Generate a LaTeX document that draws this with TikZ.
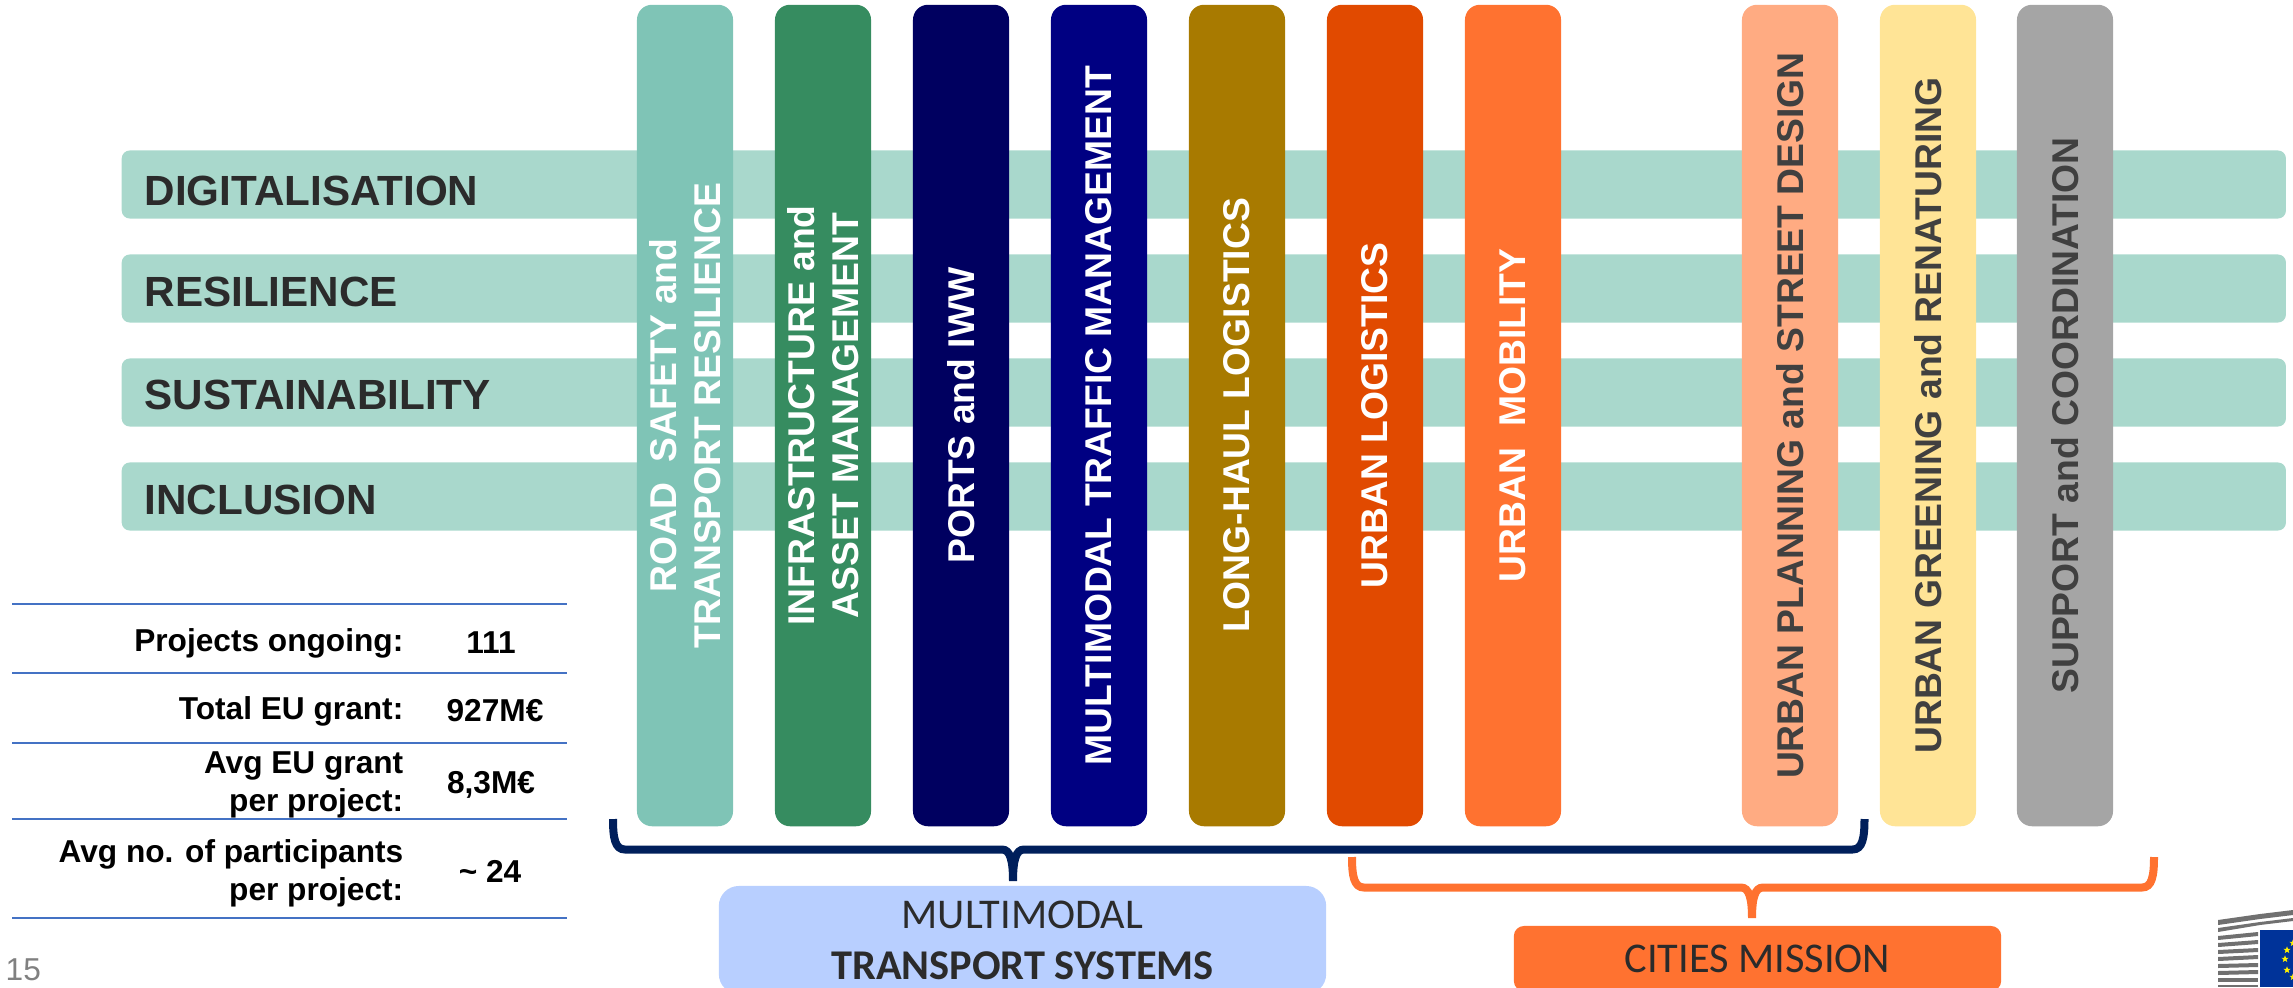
\documentclass[tikz,border=0pt]{standalone}
\usepackage{fontspec}
\setmainfont{Liberation Sans}
\newfontfamily\boxfont{Carlito}
\usetikzlibrary{shapes.geometric}
\definecolor{barteal}{HTML}{A9D8CC}
\definecolor{roadteal}{HTML}{7FC4B6}
\definecolor{infragreen}{HTML}{368C60}
\definecolor{portsnavy}{HTML}{000060}
\definecolor{trafficblue}{HTML}{000082}
\definecolor{haulgold}{HTML}{A87A00}
\definecolor{logisticsred}{HTML}{E14A00}
\definecolor{citiesorange}{HTML}{FF7230}
\definecolor{planningpeach}{HTML}{FFAB82}
\definecolor{greeningyellow}{HTML}{FFE496}
\definecolor{supportgrey}{HTML}{A5A5A5}
\definecolor{bracenavy}{HTML}{001F5B}
\definecolor{systemsblue}{HTML}{B8CFFF}
\definecolor{ruleblue}{HTML}{4472C4}
\definecolor{darktext}{HTML}{2B2B2B}
\definecolor{columntext}{HTML}{404040}
\definecolor{flagblue}{HTML}{003399}
\definecolor{logogrey}{HTML}{707070}
\tikzset{
 bar/.style={fill=barteal,rounded corners=0.08cm,minimum width=21.63cm,minimum height=0.68cm,anchor=west,inner sep=0pt},
 barlabel/.style={anchor=west,inner sep=0pt,text=darktext,font=\fontsize{12}{14}\selectfont\bfseries},
 column/.style={rotate=90,rounded corners=0.15cm,minimum width=8.21cm,minimum height=0.96cm,inner sep=0pt,align=center,text=white,font=\fontsize{10.6}{12.6}\selectfont\bfseries},
 columndark/.style={column,text=columntext},
 rowlabel/.style={anchor=east,inner sep=0pt,align=right,font=\fontsize{9}{10.9}\selectfont\bfseries},
 rowvalue/.style={inner sep=0pt,font=\fontsize{9}{10.9}\selectfont\bfseries},
 tablerule/.style={ruleblue,line width=0.015cm},
 navybrace/.style={bracenavy,line width=0.08cm},
 orangebrace/.style={citiesorange,line width=0.08cm},
 groupbox/.style={inner sep=0pt,align=center,text=darktext,font=\boxfont\fontsize{12.05}{14.5}\selectfont},
 eustar/.style={star,star points=5,star point ratio=2.4,fill=yellow,inner sep=0pt,minimum size=0.075cm}
}
\begin{document}
\begin{tikzpicture}[x=0.01cm,y=-0.01cm]
 \useasboundingbox (0,0) rectangle (2293,987);
 \clip (0,0) rectangle (2293,987);
 \node[bar] (digitalbar) at (121,184.5) {};
 \node[bar] (resiliencebar) at (121,288.5) {};
 \node[bar] (sustainbar) at (121,392.5) {};
 \node[bar] (inclusionbar) at (121,496.5) {};
 \node[barlabel] (digitallabel) at (144,191) {DIGITALISATION};
 \node[barlabel] (resiliencelabel) at (144,292) {RESILIENCE};
 \node[barlabel] (sustainlabel) at (144,395) {SUSTAINABILITY};
 \node[barlabel] (inclusionlabel) at (144,499.5) {INCLUSION};

 \node[column,fill=roadteal] (road) at (685,415.5) {ROAD\ \ SAFETY and\\TRANSPORT RESILIENCE};
 \node[column,fill=infragreen] (infra) at (823,415.5) {INFRASTRUCTURE and\\ASSET MANAGEMENT};
 \node[column,fill=portsnavy] (ports) at (961,415.5) {PORTS and IWW};
 \node[column,fill=trafficblue] (traffic) at (1099,415.5) {MULTIMODAL TRAFFIC MANAGEMENT};
 \node[column,fill=haulgold] (haul) at (1237,415.5) {LONG-HAUL LOGISTICS};
 \node[column,fill=logisticsred] (logistics) at (1375,415.5) {URBAN LOGISTICS};
 \node[column,fill=citiesorange] (mobility) at (1513,415.5) {URBAN\ \ MOBILITY};
 \node[columndark,fill=planningpeach] (planning) at (1790,415.5) {URBAN PLANNING and STREET DESIGN};
 \node[columndark,fill=greeningyellow] (greening) at (1928,415.5) {URBAN GREENING and RENATURING};
 \node[columndark,fill=supportgrey] (support) at (2065,415.5) {SUPPORT and COORDINATION};

 \draw[tablerule] (12,604) -- (567,604);
 \draw[tablerule] (12,673) -- (567,673);
 \draw[tablerule] (12,743) -- (567,743);
 \draw[tablerule] (12,819) -- (567,819);
 \draw[tablerule] (12,918) -- (567,918);
 \node[rowlabel] (ongoinglabel) at (404,643) {Projects ongoing:};
 \node[rowvalue] (ongoingvalue) at (491,643) {111};
 \node[rowlabel] (grantlabel) at (404,711) {Total EU grant:};
 \node[rowvalue] (grantvalue) at (495,711) {927M€};
 \node[rowlabel] (avglabel) at (404,785) {Avg EU grant\\per project:};
 \node[rowvalue] (avgvalue) at (491,785) {8,3M€};
 \node[rowlabel] (partlabel) at (404,873) {Avg no. of participants\\per project:};
 \node[rowvalue] (partvalue) at (490,871) {\char`\~\ 24};
 \node[inner sep=0pt,anchor=west,text=gray,font=\fontsize{9}{10}\selectfont] (pagenumber) at (5,970) {15};

 \node[groupbox,fill=systemsblue,rounded corners=0.2cm,minimum width=6.07cm,minimum height=1.08cm] (systems) at (1022.5,940) {MULTIMODAL\\\textbf{TRANSPORT SYSTEMS}};
 \node[groupbox,fill=citiesorange,rounded corners=0.1cm,minimum width=4.87cm,minimum height=0.65cm] (cities) at (1757.5,958.5) {CITIES MISSION};

 \coordinate (navyleft) at (613,819);
 \coordinate (navytip) at (1013,881);
 \coordinate (navyright) at (1864.5,819);
 \coordinate (orangeleft) at (1352,857);
 \coordinate (orangetip) at (1752,918);
 \coordinate (orangeright) at (2154,857);
 \draw[navybrace] (navyleft) .. controls (613,838) and (615,849.5) .. (625,849.5) -- (1002,849.5) .. controls (1010,849.5) and (1013,860) .. (navytip) .. controls (1013,860) and (1016,849.5) .. (1024,849.5) -- (1852.5,849.5) .. controls (1862.5,849.5) and (1864.5,838) .. (navyright);
 \draw[orangebrace] (orangeleft) .. controls (1352,876) and (1354,887.5) .. (1364,887.5) -- (1741,887.5) .. controls (1749,887.5) and (1752,898) .. (orangetip) .. controls (1752,898) and (1755,887.5) .. (1763,887.5) -- (2142,887.5) .. controls (2152,887.5) and (2154,876) .. (orangeright);

 \fill[logogrey] (2218,920) -- (2260,914) -- (2293,910) -- (2293,915) -- (2260,919) -- (2218,925);
 \fill[logogrey] (2218,928) -- (2260,922) -- (2293,918) -- (2293,921) -- (2260,925) -- (2218,932);
 \fill[logogrey] (2218,936) -- (2258,932) -- (2258,936) -- (2218,940);
 \fill[logogrey] (2218,943) -- (2258,940) -- (2258,944) -- (2218,947);
 \fill[logogrey] (2218,950) -- (2258,948) -- (2258,952) -- (2218,954);
 \fill[logogrey] (2218,957) -- (2258,955) -- (2258,959) -- (2218,961);
 \fill[logogrey] (2218,964) -- (2258,963) -- (2258,967) -- (2218,968);
 \fill[logogrey] (2218,971) -- (2258,970) -- (2258,974) -- (2218,975);
 \fill[logogrey] (2218,978) -- (2258,978) -- (2258,982) -- (2218,982);
 \fill[logogrey] (2218,985) -- (2258,985) -- (2258,987) -- (2218,987);
 \fill[flagblue] (2260,930) rectangle (2293,987);
 \node[eustar] (stara) at (2293,943) {};
 \node[eustar] (starb) at (2287,950) {};
 \node[eustar] (starc) at (2285,959) {};
 \node[eustar] (stard) at (2287,970) {};
 \node[eustar] (stare) at (2293,977) {};
\end{tikzpicture}
\end{document}
